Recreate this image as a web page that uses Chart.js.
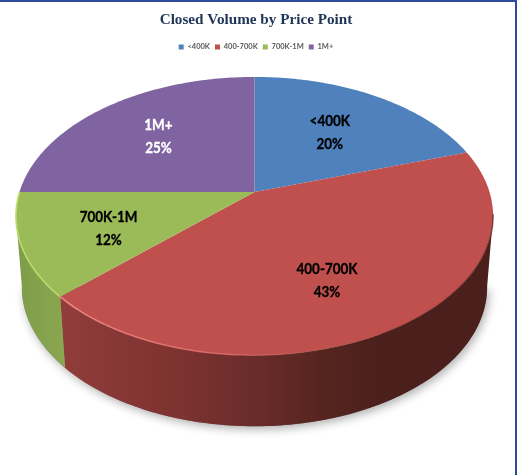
<!DOCTYPE html>
<html><head><meta charset="utf-8">
<style>html,body{margin:0;padding:0;background:#fff}#w{position:relative;width:519px;height:475px}
canvas{filter:blur(.45px)}
#w:after{content:"";position:absolute;left:0;top:0;width:515px;height:473px;border-top:2px solid #2f4a9a;border-right:2px solid #2f4a9a;pointer-events:none}</style>
<script src="https://cdn.jsdelivr.net/npm/chart.js@4"></script></head>
<body><div id="w"><canvas id="c" width="519" height="475"></canvas></div>
<script>
const categories = ['<400K','400-700K','700K-1M','1M+'];
const shares = [20,43,12,25];
const sliceColors = ['#4f81bd','#c0504d','#9bbb59','#8064a2'];
const labelColors = ['#000','#000','#000','#fff'];
const labelReach = [0.59,0.648,0.646,0.622];
const labelTurn = [0,0.092,-0.028,0];
const view = {cx:254.5,cy:192,rx:235,sy:135,k:-0.173,depth:71,shrink:0.975};

function project(phi,f,drop){
  const u=f*Math.sin(phi), v=-f*Math.cos(phi), d=1+view.k*v;
  const s=drop?view.shrink:1;
  return [view.cx+s*view.rx*u/d, view.cy+view.sy*v/d+(drop?view.depth:0)];
}
function trace(ctx,a,b,drop,cont){
  const n=Math.max(4,Math.ceil(Math.abs(b-a)*60));
  for(let i=0;i<=n;i++){
    const p=project(a+(b-a)*i/n,1,drop);
    if(i===0&&!cont)ctx.moveTo(p[0],p[1]);else ctx.lineTo(p[0],p[1]);
  }
}
const wallStart=Math.PI*0.5+0.17, wallEnd=Math.PI*1.5-0.17;
const tilted={id:'tilted',
  beforeDatasetDraw(chart){
    const ctx=chart.ctx, arcs=chart.getDatasetMeta(0).data;
    ctx.save();
    ctx.save();ctx.shadowColor='rgba(0,0,0,.32)';ctx.shadowBlur=10;ctx.shadowOffsetX=2;ctx.shadowOffsetY=3;ctx.fillStyle='#888';
    ctx.beginPath();trace(ctx,wallStart,wallEnd,true);ctx.closePath();ctx.fill();ctx.restore();
    arcs.forEach((arc,i)=>{
      const a=Math.max(arc.startAngle+Math.PI/2,wallStart), b=Math.min(arc.endAngle+Math.PI/2,wallEnd);
      if(b<=a)return;
      const g=ctx.createLinearGradient(16,0,493,0);
      if(i===1){g.addColorStop(0,'#a04543');g.addColorStop(.11,'#8f3c3a');g.addColorStop(.35,'#7c3230');g.addColorStop(.52,'#672b29');g.addColorStop(.65,'#55241f');g.addColorStop(.78,'#4a1f1c');g.addColorStop(1,'#4a1f1c');}
      else{g.addColorStop(0,'#7f9c49');g.addColorStop(.11,'#8aa84f');g.addColorStop(1,'#8aa84f');}
      ctx.fillStyle=g;ctx.beginPath();
      trace(ctx,a,b,false);trace(ctx,b,a,true,true);ctx.closePath();ctx.fill();
    });
    arcs.forEach(arc=>{
      const a=arc.startAngle+Math.PI/2,b=arc.endAngle+Math.PI/2;
      ctx.fillStyle=arc.options.backgroundColor;ctx.beginPath();
      ctx.moveTo(view.cx,view.cy);trace(ctx,a,b,false,true);ctx.closePath();ctx.fill();
    });
    const rg=ctx.createLinearGradient(60,0,320,0);
    rg.addColorStop(0,'rgba(245,140,135,.9)');rg.addColorStop(.55,'rgba(235,120,115,.7)');rg.addColorStop(1,'rgba(235,120,115,0)');
    const rims=[[rg,Math.PI*0.85,Math.PI*1.262],['rgba(190,225,110,.9)',Math.PI*1.262,Math.PI*1.5]];
    rims.forEach(r=>{ctx.strokeStyle=r[0];ctx.lineWidth=1.6;ctx.beginPath();trace(ctx,r[1],r[2],false);ctx.stroke();});
    const dark=ctx.createLinearGradient(320,0,480,0);
    dark.addColorStop(0,'rgba(60,20,18,0)');dark.addColorStop(1,'rgba(60,20,18,.55)');
    ctx.strokeStyle=dark;ctx.lineWidth=1.5;ctx.beginPath();trace(ctx,Math.PI*0.55,Math.PI*0.85,false);ctx.stroke();
    ctx.restore();
    return false;
  },
  afterDatasetsDraw(chart){
    const ctx=chart.ctx, arcs=chart.getDatasetMeta(0).data;
    ctx.save();ctx.textAlign='center';ctx.textBaseline='middle';
    ctx.font='bold 16px "Lato"';ctx.lineWidth=.35;
    arcs.forEach((arc,i)=>{
      const p=project((arc.startAngle+arc.endAngle)/2+Math.PI/2+labelTurn[i],labelReach[i],false);
      ctx.fillStyle=labelColors[i];ctx.strokeStyle=labelColors[i];
      ctx.save();ctx.translate(p[0],p[1]);ctx.scale(.84,1);
      ctx.fillText(categories[i],0,-11.5);ctx.strokeText(categories[i],0,-11.5);
      ctx.fillText(shares[i]+'%',0,11.5);ctx.strokeText(shares[i]+'%',0,11.5);
      ctx.restore();
    });
    ctx.restore();
  }
};
new Chart(document.getElementById('c'),{
  type:'pie',
  data:{labels:categories,datasets:[{data:shares,backgroundColor:sliceColors,borderWidth:0}]},
  plugins:[tilted],
  options:{responsive:false,animation:false,
    layout:{padding:{right:7}},
    plugins:{
      tooltip:{enabled:false},
      title:{display:true,text:'Closed Volume by Price Point',color:'#1f3556',font:{family:'"Liberation Serif"',size:15.2,weight:'bold'},padding:{top:11,bottom:9}},
      legend:{position:'top',labels:{color:'#595959',boxWidth:5,boxHeight:5,padding:5,font:{family:'"Lato"',size:7.5,weight:'bold'}}}
    }}
});
</script></body></html>
